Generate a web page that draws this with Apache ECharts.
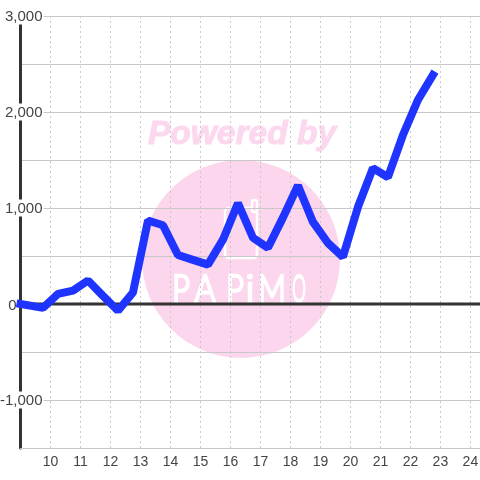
<!DOCTYPE html>
<html><head><meta charset="utf-8">
<style>html,body{margin:0;padding:0;background:#fff}#c{width:480px;height:480px}</style>
<script src="https://cdn.jsdelivr.net/npm/echarts@6/dist/echarts.min.js"></script>
</head><body><div id="c"></div>
<script>
const hours = [9,9.75,10.25,10.75,11.25,11.75,12.25,12.75,13.25,13.75,14.25,14.75,15.25,15.75,16.25,16.75,17.25,17.75,18.25,18.75,19.25,19.75,20.25,20.75,21.25,21.75,22.25,22.75];
const values = [0,-40,105,140,245,85,-70,120,870,820,510,460,410,670,1050,690,585,900,1235,855,635,490,1010,1415,1320,1760,2125,2385];
const zeroHours = [9,24.32];
const zeroValues = [0,0];
const GRID='#c8c8c8', DARK='#333333', TXT='#444444', PINK='#fbd6ec';
const letter=(t,x,sx)=>({type:'text',z:-1,x:x,y:290,scaleX:sx,style:{text:t,fill:'#fff',stroke:'#fff',lineWidth:2.6,font:'300 38px Lato',textAlign:'center',textVerticalAlign:'middle'}});
const chart=echarts.init(document.getElementById('c'),null,{renderer:'canvas'});
chart.setOption({
 animation:false,
 backgroundColor:'#fff',
 grid:{left:20.5,right:0,top:16,bottom:32,outerBoundsMode:'none'},
 graphic:{elements:[
  {type:'circle',z:-2,shape:{cx:241,cy:259,r:99},style:{fill:PINK}},
  {type:'text',z:-2,x:242,y:135,style:{text:'Powered by',fill:'#fcd8ee',stroke:'#fcd8ee',lineWidth:1,font:'italic bold 33.5px "Liberation Sans"',textAlign:'center',textVerticalAlign:'middle'}},
  {type:'rect',z:-1,shape:{x:225,y:208,width:32,height:50,r:4},style:{fill:'none',stroke:'#fff',lineWidth:2.5}},
  {type:'rect',z:-1,shape:{x:252,y:200,width:5,height:12,r:2},style:{fill:PINK,stroke:'#fff',lineWidth:2.5}},
  letter('P',181,0.8),letter('A',205,0.85),letter('P',235,0.8),letter('i',250,1),letter('M',272,0.8),letter('O',299,0.45)
 ]},
 xAxis:{type:'value',min:9,max:24.32,interval:1,
  axisLine:{onZero:false,lineStyle:{color:GRID,width:1}},axisTick:{show:false},
  axisLabel:{color:TXT,fontSize:14,fontFamily:'Liberation Sans',margin:7,showMinLabel:false,showMaxLabel:false,hideOverlap:false},
  splitLine:{show:true,lineStyle:{color:GRID,width:1,type:[2,3]}}},
 yAxis:{type:'value',min:-1500,max:3000,interval:500,
  axisLine:{show:true,onZero:false,lineStyle:{color:DARK,width:3}},axisTick:{show:false},
  axisLabel:{color:TXT,fontSize:15,fontFamily:'Liberation Sans',margin:-23,
    formatter:v=>{
      if(v===0) return '{z|0}';
      return v%1000===0?'{a|'+v.toLocaleString('en-US')+'}':'';
    },
    rich:{
      a:{color:TXT,fontSize:15,fontFamily:'Liberation Sans',backgroundColor:'#fff',padding:[2,1,0,1]},
      z:{color:TXT,fontSize:15,fontFamily:'Liberation Sans',padding:[3,27,0,0]}
    }},
  splitLine:{show:true,lineStyle:{color:GRID,width:1}}},
 series:[
  {type:'line',z:1,data:zeroHours.map((h,i)=>[h,zeroValues[i]]),showSymbol:false,silent:true,lineStyle:{color:DARK,width:3}},
  {type:'line',z:3,data:hours.map((h,i)=>[h,values[i]]),showSymbol:false,clip:false,silent:true,
   lineStyle:{color:'#1f35ff',width:8,cap:'square',join:'bevel'}}
 ]
});
</script></body></html>
